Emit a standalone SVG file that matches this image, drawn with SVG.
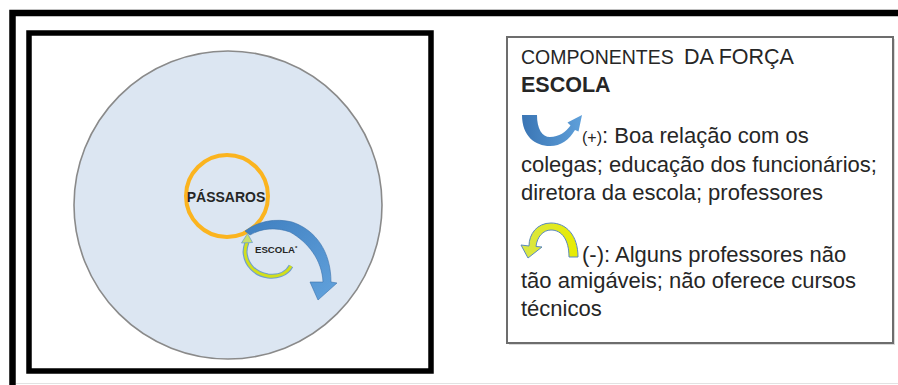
<svg xmlns="http://www.w3.org/2000/svg" width="898" height="385" viewBox="0 0 898 385">
<defs>
<linearGradient id="blueG" x1="0" y1="0" x2="1" y2="1">
<stop offset="0" stop-color="#3f7fc0"/>
<stop offset="1" stop-color="#62a2dc"/>
</linearGradient>
<linearGradient id="blueU" x1="0" y1="0" x2="1" y2="0">
<stop offset="0" stop-color="#3a75b4"/>
<stop offset="1" stop-color="#5fa0da"/>
</linearGradient>
<linearGradient id="yelG" x1="0" y1="0" x2="1" y2="0">
<stop offset="0" stop-color="#d8e64a"/>
<stop offset="1" stop-color="#e8ec00"/>
</linearGradient>
</defs>
<style>
.frame{fill:none;stroke:#000}
.lbl{font-family:"Liberation Sans",Arial,sans-serif;fill:#262626}
.b{font-weight:bold}
.leg{font-family:"Liberation Sans",Arial,sans-serif;fill:#262626;font-size:22px}
</style>
<rect width="898" height="385" fill="#fff"/>
<g id="frames">
<rect class="frame" x="12.5" y="13" width="900" height="400" stroke-width="6.5"/>
<rect class="frame" x="29" y="33" width="402" height="338" stroke-width="5.5"/>
<line x1="16" y1="383.5" x2="898" y2="383.5" stroke="#e2e2e2" stroke-width="1"/>
</g>
<g id="field">
<circle cx="228" cy="205" r="154" fill="#dce6f2" stroke="#8a8a8a" stroke-width="1.6"/>
</g>
<g id="passaros">
<circle cx="227" cy="196" r="41" fill="#dce6f2" stroke="#fbb41f" stroke-width="4"/>
<text class="lbl b" x="226" y="202" font-size="14" text-anchor="middle" fill="#1e1e1e">PÁSSAROS</text>
</g>
<g id="escola">
<text class="lbl b" x="255" y="253" font-size="9.6">ESCOLA<tspan font-size="6" dy="-3">*</tspan></text>
</g>
<g id="connectors">
<path d="M 245 231 C 258 221 276 218 292 222 C 316 230 331 252 331 282 L 337 283 L 318 300 L 310 282 L 323 282 C 322 260 308 242 290 232 C 276 227 262 228 250 235 Z" fill="url(#blueG)" stroke="#3a72ad" stroke-width="0.6"/>
<path d="M 291 266 C 286 275 276 277 268 276 C 255 274 246 265 245 252 C 245 248 246 245 247 242" fill="none" stroke="#6f9fcf" stroke-width="5"/>
<path d="M 291 266 C 286 275 276 277 268 276 C 255 274 246 265 245 252 C 245 248 246 245 247 242" fill="none" stroke="#d2df1c" stroke-width="2.8"/>
<path d="M 241.5 243 L 247.5 233.5 L 252.5 242.5 Z" fill="#c9e06a" stroke="#6f9fcf" stroke-width="0.8"/>
</g>
<g id="legend">
<rect x="509" y="39" width="386" height="306" fill="#d9d9d9"/>
<rect x="507" y="37" width="386" height="306" fill="#fff" stroke="#6d6d6d" stroke-width="2"/>
<text class="lbl" x="521" y="64" font-size="19.5">COMPONENTES</text>
<text class="lbl" x="684" y="64" font-size="21.5">DA FORÇA</text>
<text class="lbl b" x="521" y="92" font-size="21.5">ESCOLA</text>
<path d="M 522 115 C 522 136 535 146 550 146 C 561 146 569 140 575 130 L 578.5 131.5 L 582 115 L 567.5 122.5 L 570.5 125.5 C 566 132 559 137 550 137 C 542 137 537 129 537 115 Z" fill="url(#blueU)"/>
<text class="leg" x="582" y="143"><tspan font-size="16">(+)</tspan>: Boa relação com os</text>
<text class="leg" x="521" y="172">colegas; educação dos funcionários;</text>
<text class="leg" x="521" y="200">diretora da escola; professores</text>
<path d="M 578 257 C 578 235 566 223 551 223 C 537 223 529 234 529 246 L 521 245 L 528 258 L 542 247 L 536 246.5 C 537 237 543 230 551 230 C 562 230 569 240 569 257 Z" fill="url(#yelG)" stroke="#5a88c0" stroke-width="1"/>
<text class="leg" x="582" y="262">(-): Alguns professores não</text>
<text class="leg" x="521" y="288">tão amigáveis; não oferece cursos</text>
<text class="leg" x="521" y="316">técnicos</text>
</g>
</svg>
